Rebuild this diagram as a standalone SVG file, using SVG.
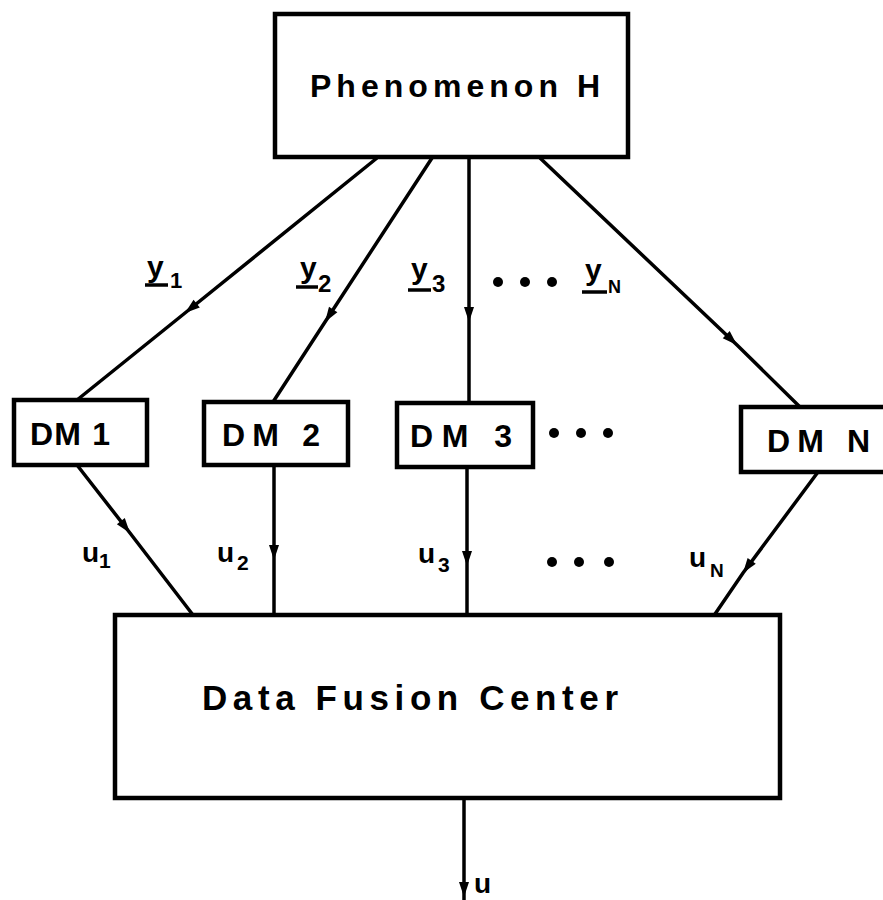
<svg xmlns="http://www.w3.org/2000/svg" width="883" height="900" viewBox="0 0 883 900">
  <style>
    .box { fill: #fff; stroke: #000; stroke-width: 4.5; }
    .wire { fill: none; stroke: #000; stroke-width: 3.5; marker-mid: url(#arrow); }
    .lbl { font-family: "Liberation Sans", "DejaVu Sans", sans-serif; font-weight: bold; fill: #000; }
    .sym { font-family: "Liberation Sans", "DejaVu Sans", sans-serif; font-weight: bold; fill: #000; }
    .ul { stroke: #000; stroke-width: 3.5; }
    .dot { fill: #000; }
  </style>
  <defs>
    <!-- slim filled arrowhead placed on the middle vertex of each wire -->
    <marker id="arrow" markerUnits="userSpaceOnUse" markerWidth="18" markerHeight="14" viewBox="-16 -7 18 14" refX="0" refY="0" orient="auto">
      <path d="M0,0 L-15,-5 L-15,5 z" fill="#000"/>
    </marker>
  </defs>
  <rect width="883" height="900" fill="#fff"/>

  <g id="connectors">
    <path class="wire" d="M377,158 L185,313 L77,400"/>
    <path class="wire" d="M432,158 L325,322 L273,402"/>
    <path class="wire" d="M469,158 L469,322 L469,403"/>
    <path class="wire" d="M540,158 L737,345 L800,407"/>
    <path class="wire" d="M77,465 L130,533 L193,615"/>
    <path class="wire" d="M274,465 L274,560 L274,615"/>
    <path class="wire" d="M467,467 L467,566 L467,616"/>
    <path class="wire" d="M818,472 L743,573 L713,617"/>
    <path class="wire" d="M464,798 L464,897 L464,900"/>
  </g>

  <g id="phenomenon">
    <rect class="box" x="275" y="14" width="353" height="143"/>
    <text class="lbl" x="310" y="97" font-size="32" textLength="290" lengthAdjust="spacing">Phenomenon H</text>
  </g>

  <g id="dm1">
    <rect class="box" x="14" y="400" width="133" height="65"/>
    <text class="lbl" x="30" y="445" font-size="32" textLength="80" lengthAdjust="spacing">DM 1</text>
  </g>
  <g id="dm2">
    <rect class="box" x="204" y="402" width="144" height="63"/>
    <text class="lbl" x="222" y="446" font-size="32" textLength="98" lengthAdjust="spacing">DM 2</text>
  </g>
  <g id="dm3">
    <rect class="box" x="397" y="403" width="136" height="64"/>
    <text class="lbl" x="410" y="447" font-size="32" textLength="102" lengthAdjust="spacing">DM 3</text>
  </g>
  <g id="dmN">
    <rect class="box" x="741" y="407" width="150" height="65"/>
    <text class="lbl" x="767" y="452" font-size="32" textLength="103" lengthAdjust="spacing">DM N</text>
  </g>

  <g id="fusion">
    <rect class="box" x="115" y="615" width="665" height="183"/>
    <text class="lbl" x="202" y="710" font-size="35" textLength="416" lengthAdjust="spacing">Data Fusion Center</text>
  </g>

  <g id="labels">
    <!-- observation vectors -->
    <text class="sym" x="147" y="277" font-size="30">y</text>
    <text class="sym" x="170" y="288" font-size="22">1</text>
    <line class="ul" x1="145" y1="285" x2="168" y2="285"/>
    <text class="sym" x="300" y="278" font-size="30">y</text>
    <text class="sym" x="318" y="292" font-size="24">2</text>
    <line class="ul" x1="296" y1="287" x2="318" y2="287"/>
    <text class="sym" x="411" y="279" font-size="30">y</text>
    <text class="sym" x="432" y="292" font-size="24">3</text>
    <line class="ul" x1="408" y1="290" x2="431" y2="290"/>
    <circle class="dot" cx="498" cy="282" r="5"/>
    <circle class="dot" cx="525" cy="282" r="5"/>
    <circle class="dot" cx="552" cy="282" r="5"/>
    <text class="sym" x="585" y="280" font-size="30">y</text>
    <text class="sym" x="608" y="293" font-size="18">N</text>
    <line class="ul" x1="582" y1="292" x2="607" y2="292"/>

    <circle class="dot" cx="554" cy="433" r="5"/>
    <circle class="dot" cx="581" cy="433" r="5"/>
    <circle class="dot" cx="608" cy="433" r="5"/>

    <!-- decisions -->
    <text class="sym" x="82" y="562" font-size="28">u</text>
    <text class="sym" x="99" y="568" font-size="21">1</text>
    <text class="sym" x="217" y="562" font-size="28">u</text>
    <text class="sym" x="237" y="570" font-size="21">2</text>
    <text class="sym" x="418" y="563" font-size="28">u</text>
    <text class="sym" x="438" y="572" font-size="21">3</text>
    <circle class="dot" cx="552" cy="562" r="5"/>
    <circle class="dot" cx="579" cy="562" r="5"/>
    <circle class="dot" cx="609" cy="562" r="5"/>
    <text class="sym" x="689" y="567" font-size="28">u</text>
    <text class="sym" x="710" y="577" font-size="19">N</text>

    <text class="sym" x="474" y="893" font-size="28">u</text>
  </g>
</svg>
